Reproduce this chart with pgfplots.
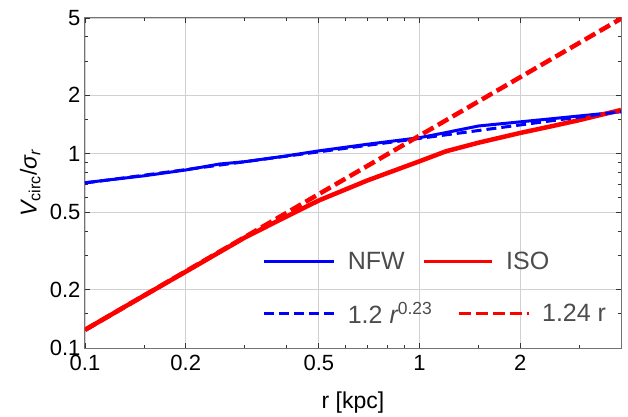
\documentclass[border=0pt]{standalone}
\usepackage{pgfplots}
\pgfplotsset{compat=1.18}
\usepackage{fontspec}
\setmainfont{Liberation Sans}
\definecolor{mred}{rgb}{1,0,0}
\definecolor{mblue}{rgb}{0,0,1}
\begin{document}
\begin{tikzpicture}
\begin{loglogaxis}[
  scale only axis, width=536bp, height=330bp,
  xmin=0.1, xmax=4, ymin=0.1, ymax=5,
  xtick={0.1,0.2,0.5,1,2}, xticklabels={0.1,0.2,0.5,1,2},
  ytick={0.1,0.2,0.5,1,2,5}, yticklabels={0.1,0.2,0.5,1,2,5},
  minor xtick={0.15,0.3,0.4,0.6,0.7,0.8,0.9,1.5,3},
  minor ytick={0.15,0.3,0.4,0.6,0.7,0.8,0.9,1.5,3,4},
  tick align=inside, tick pos=both,
  xticklabel pos=lower, yticklabel pos=left,
  major tick length=5bp, minor tick length=3bp,
  tick style={black!80, line width=0.7bp},
  xmajorgrids, ymajorgrids,
  major grid style={black!18, line width=0.9bp},
  axis line style={black!55, line width=1bp},
  /pgf/number format/assume math mode=true,
  ticklabel style={font=\fontsize{22bp}{24bp}\selectfont},
  xticklabel style={yshift=-4bp},
  yticklabel style={xshift=-1bp},
  xlabel={r [kpc]},
  ylabel={{\itshape V}\textsubscript{circ}/{\itshape σ}\textsubscript{\itshape r}},
  label style={font=\fontsize{23bp}{26bp}\selectfont},
  xlabel style={at={(axis description cs:0.5,-0.165)}, anchor=center},
  ylabel style={at={(axis description cs:-0.102,0.5)}, anchor=center, rotate=0},
  legend columns=2,
  legend cell align=left,
  legend style={draw=none, fill=none, text=black!70,
    font=\fontsize{25bp}{28bp}\selectfont,
    at={(axis description cs:0.332,0.07)}, anchor=south west,
    inner sep=0pt, row sep=31bp,
    nodes={inner sep=0pt}},
  /tikz/every odd column/.append style={column sep=12bp},
  /tikz/every even column/.append style={column sep=25bp},
  legend image code/.code={\draw[#1, line width=2.7bp] (0bp,0bp) -- (70bp,0bp);},
]
\addplot[color=mblue, line width=3bp] coordinates {
(0.1,0.71) (0.15,0.77) (0.2,0.825) (0.253,0.886) (0.3,0.91) (0.4,0.975) (0.5,1.035)
(0.7,1.12) (1,1.21) (1.17,1.275) (1.5,1.39) (2,1.46) (3,1.565) (4,1.645)};
\addlegendentry{NFW}
\addplot[color=mred, line width=4.5bp,
  legend image code/.code={\draw[mred, line width=2.7bp, overlay] (-35bp,0bp) -- (33bp,0bp);}] coordinates {
(0.1,0.124) (0.15,0.186) (0.2,0.247) (0.3,0.37) (0.4,0.475) (0.5,0.575)
(0.7,0.73) (1,0.915) (1.2,1.03) (1.5,1.14) (2,1.28) (2.5,1.39) (3,1.49) (4,1.68)};
\addlegendentry{\hspace*{-36bp}ISO}
\addplot[color=mblue, line width=3bp, dash pattern=on 10bp off 5bp] coordinates {
(0.1,0.7066) (4,1.6506)};
\addlegendentry{1.2 {\itshape r}\textsuperscript{0.23}}
\addplot[color=mred, line width=4.5bp, dash pattern=on 12bp off 5bp] coordinates {
(0.1,0.124) (4.04,5.0096)};
\addlegendentry{1.24 r}
\end{loglogaxis}
\pgfresetboundingbox
\path (current axis.south west) ++(-85bp,-69bp);
\path (current axis.north east) ++(7bp,18bp);
\end{tikzpicture}
\end{document}
